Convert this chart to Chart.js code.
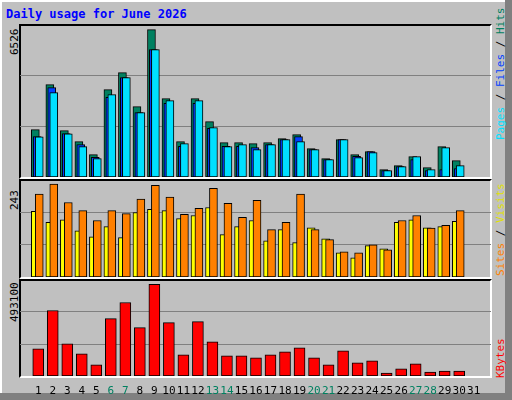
<!DOCTYPE html>
<html><head><meta charset="utf-8">
<script src="https://cdn.jsdelivr.net/npm/chart.js@4"></script>
<style>
body{margin:0;width:512px;height:400px;overflow:hidden;background:#c0c0c0;font-family:"DejaVu Sans Mono",monospace}
#frame{position:absolute;left:0;top:0;width:505px;height:393px;background:#c0c0c0;border-left:2px solid #fff;border-top:2px solid #fff;box-sizing:border-box}
#shadow{position:absolute;left:0;top:0;width:512px;height:400px;background:#808080}
.panel{position:absolute;left:19px;width:473px;box-sizing:border-box;border-top:2px solid #000;border-left:2px solid #000;border-right:2px solid #fff;border-bottom:2px solid #fff}
canvas{position:absolute}
.vt{position:absolute;transform-origin:0 0;transform:rotate(-90deg);white-space:nowrap;font-size:11px}
</style></head>
<body>
<div id="shadow"></div><div id="frame"></div>
<div style="position:absolute;left:6px;top:7px;color:#0000ff;font-weight:bold;font-size:12px">Daily usage for June 2026</div>
<div class="panel" style="top:24px;height:155px"></div>
<div class="panel" style="top:179px;height:100px"></div>
<div class="panel" style="top:279px;height:99px"></div>
<div class="vt" style="left:8px;top:55px;color:#000">6526</div>
<div class="vt" style="left:8px;top:210px;color:#000">243</div>
<div class="vt" style="left:8px;top:322px;color:#000">493100</div>
<div class="vt" style="left:494px;top:140px"><span style="color:#00e0ff">Pages</span> / <span style="color:#0040ff">Files</span> / <span style="color:#008060">Hits</span></div>
<div class="vt" style="left:494px;top:276px"><span style="color:#ff8000">Sites</span> / <span style="color:#e0e000">Visits</span></div>
<div class="vt" style="left:494px;top:378px;color:#ff0000">KBytes</div>
<canvas id="c1" style="left:20px;top:25px;width:471px;height:152px"></canvas>
<canvas id="c2" style="left:20px;top:180px;width:471px;height:97px"></canvas>
<canvas id="c3" style="left:20px;top:280px;width:471px;height:120px"></canvas>
<script>
const days = Array.from({length: 31}, (_, i) => i + 1);
const weekendDays = [6, 7, 13, 14, 20, 21, 27, 28];
const hits  = [2100,4090,2050,1565,990,3870,4620,3115,6526,3470,1565,3470,2450,1520,1520,1476,1520,1697,1874,1255,812,1653,989,1122,325,502,900,413,1343,723,null];
const files = [1790,3960,1919,1432,871,3528,4399,2849,5638,3262,1358,3262,2155,1358,1358,1299,1432,1653,1786,1210,768,1653,915,1122,280,458,768,280,325,369,null];
const pages = [1780,3734,1910,1343,812,3646,4399,2849,5638,3380,1476,3380,2184,1343,1432,1210,1432,1653,1565,1210,768,1653,856,1077,280,458,900,325,1299,502,null];
const visits = [172,143,150,121,105,132,103,169,177,174,153,161,182,111,132,148,95,124,90,129,100,63,50,82,74,143,150,129,132,146,null];
const sites  = [217,243,195,174,148,174,166,204,240,209,164,180,232,193,156,201,124,143,217,124,98,66,63,84,71,148,161,128,135,174,null];
const kbytes = [146300,352200,173400,119200,59600,308800,395600,260100,493100,287200,113800,292600,184200,108400,108400,97500,113800,130000,151700,97500,59600,135500,70400,81300,16300,37900,65000,21700,27100,27100,null];

const XMIN = 0.267, XMAX = 31.667;
const pts = (arr, off) => arr.map((v, i) => ({x: days[i] + off, y: v}));

function panel(id, datasets, yMax, showX) {
  const c = document.getElementById(id);
  return new Chart(c, {
    type: "bar",
    data: {datasets},
    options: {
      responsive: false, animation: false, devicePixelRatio: 1,
      layout: {padding: 0},
      plugins: {legend: {display: false}, tooltip: {enabled: false}},
      scales: {
        x: {
          type: "linear", min: XMIN, max: XMAX, display: showX,
          grid: {display: false}, border: {display: false},
          afterBuildTicks: s => { s.ticks = days.map(v => ({value: v})); },
          afterFit: s => { if (showX) s.height = 24; },
          ticks: {
            autoSkip: false, maxRotation: 0, padding: 1,
            font: {family: "DejaVu Sans Mono", size: 11},
            color: ctx => weekendDays.includes(ctx.tick.value) ? "#008060" : "#000"
          }
        },
        y: {
          min: 0, max: yMax, display: true,
          afterBuildTicks: s => { s.ticks = [{value: yMax / 3}, {value: yMax * 2 / 3}]; },
          afterFit: s => { s.width = 0; },
          ticks: {display: false},
          border: {display: false},
          grid: {color: "#808080", lineWidth: 1, drawTicks: false}
        }
      }
    }
  });
}
function setSize(id, w, h) { const c = document.getElementById(id); c.width = w; c.height = h; }
setSize("c1", 471, 152); setSize("c2", 471, 97); setSize("c3", 471, 120);

const bar = (data, color, w) => ({data, backgroundColor: color, borderColor: "#000", borderWidth: 1, barThickness: w, grouped: false, borderSkipped: false});

panel("c1", [
  bar(pts(pages, 0.07), "#00e0ff", 8),
  bar(pts(files, -0.07), "#0040ff", 8),
  bar(pts(hits, -0.2), "#008060", 8)
], 6729, false);

panel("c2", [
  bar(pts(sites, 0.07), "#ff8000", 8),
  bar(pts(visits, -0.2), "#ffff00", 8)
], 254, false);

panel("c3", [
  bar(pts(kbytes, 0), "#ff0000", 11)
], 516400, true);
</script>
</body></html>
